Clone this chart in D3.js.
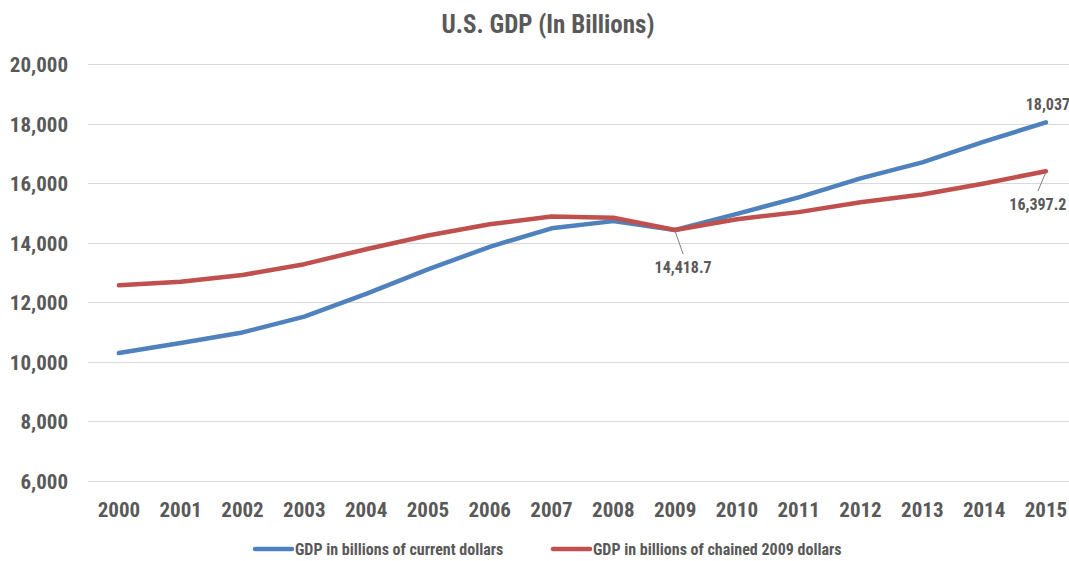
<!DOCTYPE html>
<html>
<head>
<meta charset="utf-8">
<script src="https://cdn.jsdelivr.net/npm/d3@7"></script>
<style>
  html, body { margin: 0; padding: 0; background: #fff; }
  svg { display: block; }
  text { font-family: "Liberation Sans Narrow", "Arial Narrow", "Roboto Condensed", sans-serif; font-weight: bold; fill: #595959; }
</style>
</head>
<body>
<svg id="chart"></svg>
<script>
const years = ['2000', '2001', '2002', '2003', '2004', '2005', '2006', '2007',
  '2008', '2009', '2010', '2011', '2012', '2013', '2014', '2015']
const currentDollars = [10284.8, 10621.8, 10977.5, 11510.7, 12274.9, 13093.7, 13855.9, 14477.6,
  14718.6, 14418.7, 14964.4, 15517.9, 16155.3, 16691.5, 17393.1, 18036.6]
const chainedDollars = [12559.7, 12682.2, 12908.8, 13271.1, 13773.5, 14234.2, 14613.8, 14873.7,
  14830.4, 14418.7, 14783.8, 15020.6, 15354.6, 15612.2, 15982.3, 16397.2]
const yTicks = [6000, 8000, 10000, 12000, 14000, 16000, 18000, 20000]
const seriesNames = ['GDP in billions of current dollars', 'GDP in billions of chained 2009 dollars']
const title = 'U.S. GDP (In Billions)'

const w = 1069
const h = 561
const plotLeft = 88
const step = 61.8
const plotTop = 64
const plotBottom = 480.5

const blue = '#4f81bd'
const red = '#c0504d'

const svg = d3.select('#chart').attr('width', w).attr('height', h)

const x = d3.scaleBand().domain(years).range([plotLeft, plotLeft + step * years.length]).paddingInner(0).paddingOuter(0)
const y = d3.scaleLinear().domain([6000, 20000]).range([plotBottom, plotTop])
const cx = (d) => x(d) + x.bandwidth() / 2

svg.append('text')
  .attr('x', 548)
  .attr('y', 33)
  .attr('text-anchor', 'middle')
  .style('font-size', '25px')
  .text(title)

// gridlines
svg.append('g')
  .selectAll('line')
  .data(yTicks)
  .enter()
  .append('line')
  .attr('x1', plotLeft)
  .attr('x2', w)
  .attr('y1', (d) => Math.round(y(d)) + 0.5)
  .attr('y2', (d) => Math.round(y(d)) + 0.5)
  .attr('stroke', '#d9d9d9')
  .attr('stroke-width', 1.2)

// y axis labels
const yAxis = d3.axisLeft(y).tickValues(yTicks).tickFormat(d3.format(',')).tickSize(0).tickPadding(0)
svg.append('g')
  .attr('transform', 'translate(68,0)')
  .call(yAxis)
  .call((g) => g.select('.domain').remove())
  .call((g) => g.selectAll('text')
    .attr('fill', '#595959')
    .style('font-size', '21px')
    .attr('dy', '0.36em'))
  .attr('font-family', null)
  .attr('font-size', null)

// x axis labels
const xAxis = d3.axisBottom(x).tickSize(0).tickPadding(0)
svg.append('g')
  .attr('transform', 'translate(0,502)')
  .call(xAxis)
  .call((g) => g.select('.domain').remove())
  .call((g) => g.selectAll('text')
    .attr('fill', '#595959')
    .style('font-size', '21px')
    .attr('dy', '0.72em'))
  .attr('font-family', null)
  .attr('font-size', null)

const line = d3.line()
  .x((d) => cx(d.year))
  .y((d) => y(d.value))

const series = [
  { name: seriesNames[0], color: blue, values: years.map((yr, i) => ({ year: yr, value: currentDollars[i] })) },
  { name: seriesNames[1], color: red, values: years.map((yr, i) => ({ year: yr, value: chainedDollars[i] })) },
]

svg.append('g')
  .selectAll('path')
  .data(series)
  .enter()
  .append('path')
  .attr('d', (d) => line(d.values))
  .attr('fill', 'none')
  .attr('stroke', (d) => d.color)
  .attr('stroke-width', 4.5)
  .attr('stroke-linecap', 'round')
  .attr('stroke-linejoin', 'round')

// data labels
const labels = [
  { year: '2009', value: chainedDollars[9], text: d3.format(',.1f')(chainedDollars[9]), dx: 8, dy: 43, leader: true },
  { year: '2015', value: currentDollars[15], text: d3.format(',.0f')(currentDollars[15]), dx: 2, dy: -12, leader: false },
  { year: '2015', value: chainedDollars[15], text: d3.format(',.1f')(chainedDollars[15]), dx: -8, dy: 39, leader: true },
]

const lg = svg.append('g')
labels.forEach((l) => {
  const px = cx(l.year)
  const py = y(l.value)
  if (l.leader) {
    lg.append('line')
      .attr('x1', px)
      .attr('y1', py + 1)
      .attr('x2', px + l.dx)
      .attr('y2', py + l.dy - 19)
      .attr('stroke', '#7f7f7f')
      .attr('stroke-width', 1)
  }
  lg.append('text')
    .attr('x', px + l.dx)
    .attr('y', py + l.dy)
    .attr('text-anchor', 'middle')
    .style('font-size', '16px')
    .text(l.text)
})

// legend
const legendItems = [
  { name: seriesNames[0], color: blue, x: 255 },
  { name: seriesNames[1], color: red, x: 553 },
]
const leg = svg.append('g')
legendItems.forEach((item) => {
  leg.append('line')
    .attr('x1', item.x)
    .attr('x2', item.x + 37)
    .attr('y1', 549)
    .attr('y2', 549)
    .attr('stroke', item.color)
    .attr('stroke-width', 4.5)
    .attr('stroke-linecap', 'round')
  leg.append('text')
    .attr('x', item.x + 40)
    .attr('y', 549)
    .attr('dy', '0.35em')
    .style('font-size', '16px')
    .text(item.name)
})
</script>
</body>
</html>
